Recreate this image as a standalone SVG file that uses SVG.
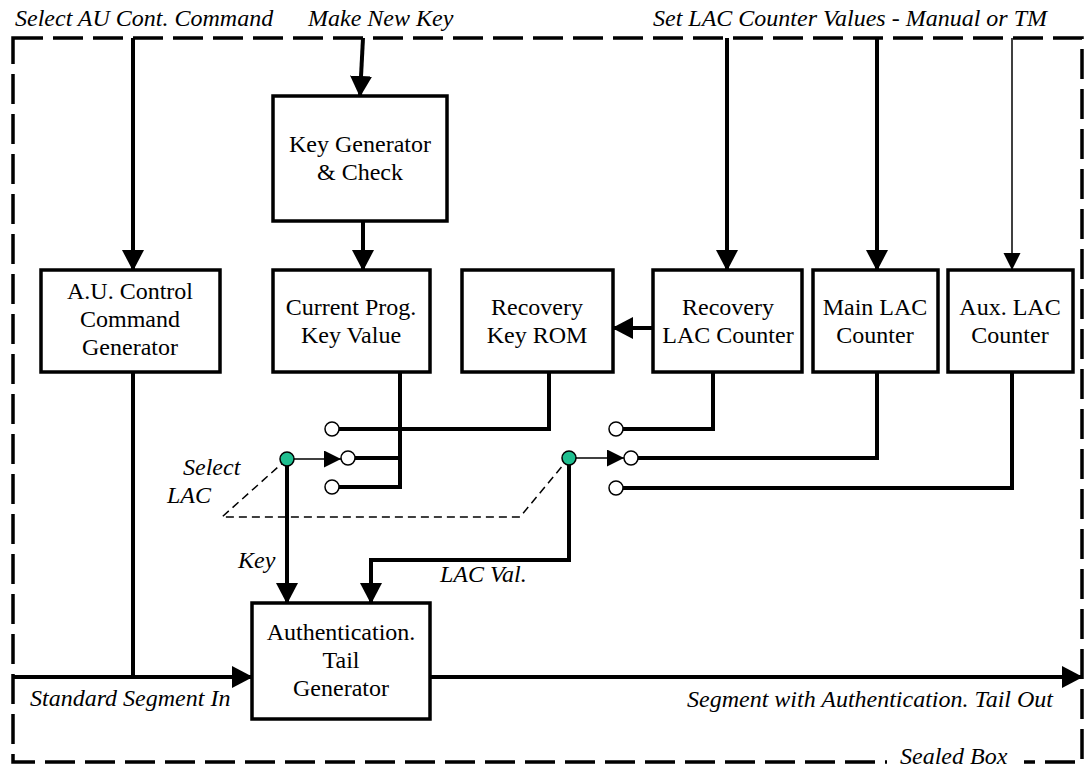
<svg xmlns="http://www.w3.org/2000/svg" width="1085" height="767" viewBox="0 0 1085 767">
<defs>
<marker id="arr" markerUnits="userSpaceOnUse" markerWidth="22" markerHeight="22" refX="20" refY="11" orient="auto"><path d="M0,0 L21,11 L0,22 Z" fill="#000"/></marker>
<marker id="arrS" markerUnits="userSpaceOnUse" markerWidth="18" markerHeight="18" refX="17" refY="8.5" orient="auto"><path d="M0,0 L17,8.5 L0,17 Z" fill="#000"/></marker>
</defs>
<style>
.box{fill:#fff;stroke:#000;stroke-width:3.5}
.bt{font-family:"Liberation Serif","Times New Roman",serif;font-size:24px;text-anchor:middle;fill:#000}
.lb{font-family:"Liberation Serif","Times New Roman",serif;font-size:24px;font-style:italic;fill:#000}
.w{fill:none;stroke:#000;stroke-width:4}
.thin{fill:none;stroke:#000;stroke-width:1.5}
.dash{fill:none;stroke:#000;stroke-width:1.5;stroke-dasharray:8 5}
.pin{fill:#fff;stroke:#000;stroke-width:1.5}
.sel{fill:#1fbf90;stroke:#000;stroke-width:1.5}
</style>
<rect width="1085" height="767" fill="#fff"/>
<rect x="13" y="38" width="1069" height="724" fill="none" stroke="#000" stroke-width="3.5" stroke-dasharray="30 10"/>
<rect x="887" y="746" width="137" height="21" fill="#fff"/>
<g id="labels">
<text class="lb" x="15" y="26">Select AU Cont. Command</text>
<text class="lb" x="308" y="26">Make New Key</text>
<text class="lb" x="653" y="26">Set LAC Counter Values - Manual or TM</text>
<text class="lb" x="30" y="706">Standard Segment In</text>
<text class="lb" x="1053" y="707" text-anchor="end">Segment with Authentication. Tail Out</text>
<text class="lb" x="900" y="764">Sealed Box</text>
<text class="lb" x="183" y="475">Select</text>
<text class="lb" x="167" y="503">LAC</text>
<text class="lb" x="238" y="568">Key</text>
<text class="lb" x="440" y="582">LAC Val.</text>
</g>
<g id="connectors">
<path class="w" d="M133,38 V270" marker-end="url(#arr)"/>
<path class="w" d="M363,38 L360,96" marker-end="url(#arr)"/>
<path class="w" d="M727,38 V270" marker-end="url(#arr)"/>
<path class="w" d="M877,38 V270" marker-end="url(#arr)"/>
<path class="thin" d="M1012,38 V270" marker-end="url(#arrS)"/>
<path class="w" d="M363,221 V270" marker-end="url(#arr)"/>
<path class="w" d="M653,328 H613" marker-end="url(#arr)"/>
<path class="w" d="M133,372 V677"/>
<path class="w" d="M14,677 H252" marker-end="url(#arr)"/>
<path class="w" d="M430,677 H1082" marker-end="url(#arr)"/>
<path class="w" d="M549,372 V429 H339"/>
<path class="w" d="M400,372 V487 H339"/>
<path class="w" d="M400,458 H355"/>
<path class="w" d="M713,372 V429 H623"/>
<path class="w" d="M877,372 V458 H638"/>
<path class="w" d="M1012,372 V488 H623"/>
<path class="thin" d="M294,459 H341" marker-end="url(#arrS)"/>
<path class="thin" d="M576,458 H624" marker-end="url(#arrS)"/>
<path class="dash" d="M287,459 L222,517 H520 L569,458"/>
<path class="w" d="M287,459 V603" marker-end="url(#arr)"/>
<path class="w" d="M569,458 V560 H371 V603" marker-end="url(#arr)"/>
</g>
<g id="switch-left">
<circle class="pin" cx="332" cy="429" r="7"/>
<circle class="pin" cx="348" cy="458" r="7"/>
<circle class="pin" cx="332" cy="487" r="7"/>
<circle class="sel" cx="287" cy="459" r="7"/>
</g>
<g id="switch-right">
<circle class="pin" cx="616" cy="429" r="7"/>
<circle class="pin" cx="631" cy="458" r="7"/>
<circle class="pin" cx="616" cy="488" r="7"/>
<circle class="sel" cx="569" cy="458" r="7"/>
</g>
<g id="keygen">
<rect class="box" x="273" y="96" width="174" height="125"/>
<text class="bt" x="360" y="152">Key Generator</text>
<text class="bt" x="360" y="180">&amp; Check</text>
</g>
<g id="aucontrol">
<rect class="box" x="41" y="270" width="179" height="102"/>
<text class="bt" x="130" y="299">A.U. Control</text>
<text class="bt" x="130" y="327">Command</text>
<text class="bt" x="130" y="355">Generator</text>
</g>
<g id="currentkey">
<rect class="box" x="273" y="270" width="157" height="102"/>
<text class="bt" x="351" y="315">Current Prog.</text>
<text class="bt" x="351" y="343">Key Value</text>
</g>
<g id="recoveryrom">
<rect class="box" x="462" y="270" width="151" height="102"/>
<text class="bt" x="537" y="315">Recovery</text>
<text class="bt" x="537" y="343">Key ROM</text>
</g>
<g id="recoverylac">
<rect class="box" x="653" y="270" width="149" height="102"/>
<text class="bt" x="728" y="315">Recovery</text>
<text class="bt" x="728" y="343">LAC Counter</text>
</g>
<g id="mainlac">
<rect class="box" x="813" y="270" width="125" height="102"/>
<text class="bt" x="875" y="315">Main LAC</text>
<text class="bt" x="875" y="343">Counter</text>
</g>
<g id="auxlac">
<rect class="box" x="948" y="270" width="125" height="102"/>
<text class="bt" x="1010" y="315">Aux. LAC</text>
<text class="bt" x="1010" y="343">Counter</text>
</g>
<g id="authtail">
<rect class="box" x="252" y="603" width="178" height="116"/>
<text class="bt" x="341" y="640">Authentication.</text>
<text class="bt" x="341" y="668">Tail</text>
<text class="bt" x="341" y="696">Generator</text>
</g>
</svg>
